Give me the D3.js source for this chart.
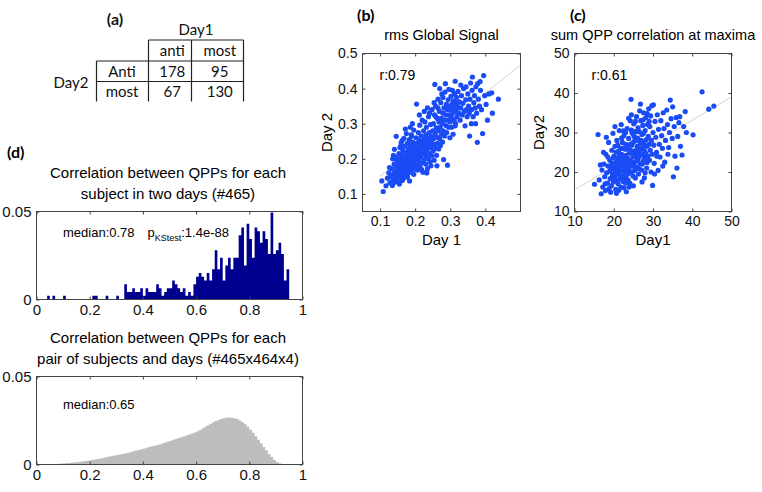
<!DOCTYPE html>
<html><head><meta charset="utf-8">
<script src="https://cdn.jsdelivr.net/npm/d3@7"></script>
<style>body{margin:0;background:#fff}svg{display:block}</style>
</head><body>
<script>
// ---------- DATA ----------
const tableCols = ["anti", "most"];
const tableRows = ["Anti", "most"];
const tableCounts = [[178, 95], [67, 130]];

const rmsDay1 = [0.105,0.109,0.117,0.121,0.125,0.128,0.131,0.133,0.135,0.137,0.139,0.140,0.142,0.143,0.145,0.146,0.147,0.148,0.149,0.150,0.136,0.138,0.127,0.141,0.144,
0.151,0.152,0.153,0.154,0.155,0.156,0.157,0.158,0.159,0.160,0.160,0.161,0.162,0.163,0.164,0.165,0.166,0.167,0.168,0.169,0.170,0.170,0.171,0.172,0.173,0.174,0.175,0.175,0.176,0.177,0.178,0.179,0.180,0.180,0.181,0.182,0.183,0.184,0.184,0.185,0.186,0.187,0.188,0.188,0.189,0.190,0.190,0.191,0.192,0.193,0.194,0.195,0.196,0.196,0.197,0.198,0.199,0.200,0.155,0.165,0.178,0.158,0.163,0.172,0.186,0.192,
0.201,0.202,0.203,0.204,0.204,0.205,0.206,0.207,0.208,0.209,0.210,0.210,0.211,0.212,0.213,0.214,0.215,0.216,0.217,0.218,0.219,0.220,0.220,0.221,0.222,0.223,0.224,0.225,0.226,0.227,0.228,0.229,0.230,0.230,0.231,0.232,0.233,0.234,0.235,0.236,0.237,0.238,0.239,0.240,0.241,0.242,0.243,0.244,0.245,0.246,0.247,0.248,0.249,0.250,0.212,0.226,0.235,0.241,0.256,0.218,0.233,0.245,
0.251,0.252,0.253,0.254,0.255,0.256,0.257,0.258,0.259,0.260,0.261,0.262,0.262,0.263,0.264,0.265,0.266,0.267,0.268,0.269,0.270,0.271,0.272,0.273,0.274,0.275,0.276,0.277,0.278,0.279,0.280,0.281,0.282,0.283,0.284,0.285,0.286,0.287,0.288,0.289,0.290,0.291,0.292,0.293,0.294,0.295,0.296,0.297,0.298,0.299,0.300,0.270,0.279,0.265,0.259,0.254,
0.301,0.302,0.303,0.304,0.305,0.306,0.307,0.308,0.309,0.310,0.311,0.312,0.313,0.314,0.315,0.316,0.317,0.318,0.319,0.320,0.322,0.324,0.326,0.328,0.330,0.332,0.334,0.336,0.338,0.340,0.342,0.344,0.346,0.348,0.350,0.314,0.330,0.345,
0.352,0.354,0.356,0.358,0.360,0.362,0.363,0.365,0.367,0.369,0.371,0.373,0.375,0.377,0.378,0.380,0.383,0.386,0.389,0.392,0.395,0.398,0.402,0.406,0.410,0.418,0.420,0.437,0.385,0.360,0.372,0.355];
const rmsDay2 = [0.137,0.107,0.123,0.145,0.160,0.132,0.150,0.172,0.124,0.141,0.158,0.185,0.133,0.166,0.149,0.264,0.178,0.195,0.139,0.160,0.200,0.210,0.175,0.227,0.205,
0.172,0.188,0.145,0.215,0.160,0.201,0.232,0.178,0.150,0.192,0.246,0.166,0.210,0.138,0.184,0.224,0.170,0.196,0.258,0.155,0.205,0.180,0.236,0.164,0.190,0.218,0.148,0.272,0.200,0.175,0.244,0.160,0.212,0.186,0.228,0.170,0.255,0.137,0.196,0.206,0.180,0.238,0.162,0.220,0.268,0.190,0.264,0.210,0.174,0.248,0.200,0.230,0.156,0.282,0.186,0.215,0.240,0.170,0.128,0.142,0.150,0.235,0.252,0.285,0.290,0.300,
0.198,0.225,0.260,0.356,0.182,0.210,0.245,0.168,0.232,0.275,0.200,0.218,0.190,0.252,0.296,0.176,0.228,0.206,0.265,0.240,0.188,0.214,0.310,0.250,0.162,0.230,0.280,0.198,0.256,0.220,0.305,0.238,0.185,0.268,0.210,0.290,0.246,0.226,0.172,0.260,0.200,0.320,0.236,0.275,0.215,0.250,0.192,0.298,0.232,0.264,0.208,0.340,0.244,0.280,0.325,0.335,0.345,0.330,0.412,0.170,0.160,0.180,
0.222,0.300,0.258,0.196,0.325,0.240,0.272,0.350,0.230,0.288,0.210,0.180,0.262,0.315,0.245,0.370,0.280,0.228,0.305,0.335,0.258,0.290,0.238,0.360,0.315,0.270,0.385,0.300,0.248,0.330,0.280,0.198,0.345,0.310,0.265,0.390,0.414,0.325,0.295,0.355,0.275,0.340,0.182,0.310,0.368,0.290,0.398,0.325,0.350,0.260,0.305,0.400,0.375,0.345,0.320,0.360,
0.340,0.378,0.318,0.290,0.355,0.395,0.330,0.270,0.365,0.345,0.310,0.385,0.335,0.421,0.300,0.360,0.340,0.375,0.320,0.350,0.392,0.330,0.362,0.310,0.345,0.380,0.325,0.358,0.400,0.335,0.294,0.368,0.340,0.320,0.385,0.294,0.410,0.405,
0.350,0.330,0.370,0.416,0.340,0.395,0.433,0.320,0.360,0.380,0.345,0.405,0.330,0.247,0.414,0.370,0.350,0.395,0.340,0.272,0.437,0.380,0.355,0.310,0.385,0.388,0.330,0.370,0.420,0.300,0.300,0.265];
const rmsFit = [[0.1, 0.15], [0.5, 0.467]];

const qppDay1 = [15.1,16.0,16.3,16.8,17.0,17.2,17.5,17.7,17.9,18.0,18.2,18.4,18.5,18.7,18.8,19.0,19.1,19.3,19.4,19.5,19.6,19.7,19.8,19.9,20.0,17.4,18.1,16.6,17.8,19.2,
20.1,20.2,20.3,20.4,20.5,20.6,20.7,20.8,20.9,21.0,21.1,21.2,21.3,21.4,21.5,21.6,21.7,21.8,21.9,22.0,22.1,22.2,22.3,22.4,22.5,22.6,22.7,22.8,22.9,23.0,20.5,21.0,21.7,22.4,22.8,20.3,21.9,22.6,21.3,23.0,
23.1,23.2,23.3,23.4,23.5,23.6,23.7,23.8,23.9,24.0,24.1,24.2,24.3,24.4,24.5,24.6,24.7,24.8,24.9,25.0,25.1,25.2,25.3,25.4,25.5,25.6,25.7,25.8,25.9,26.0,23.5,24.2,24.8,25.3,23.8,24.5,25.0,23.0,24.0,25.8,
26.1,26.2,26.3,26.4,26.5,26.6,26.7,26.8,26.9,27.0,27.1,27.2,27.3,27.4,27.5,27.6,27.7,27.8,27.9,28.0,28.1,28.2,28.3,28.4,28.5,28.6,28.7,28.8,28.9,29.0,26.4,27.2,28.0,26.8,28.5,27.7,26.2,
29.1,29.2,29.3,29.4,29.5,29.6,29.7,29.8,29.9,30.0,30.1,30.2,30.3,30.5,30.7,30.9,31.1,31.3,31.4,31.6,31.8,32.0,32.2,32.4,32.6,32.8,33.0,30.4,31.0,32.5,
33.2,33.5,33.7,34.0,34.2,34.4,34.6,34.9,35.2,35.4,35.6,35.9,36.1,36.3,36.6,37.0,37.4,37.8,38.2,38.5,40.2,42.5,44.2,45.5,35.0,33.8,36.8,
19.5,19.9,20.2,20.6,20.9,21.2,21.5,21.8,22.1,22.3,22.6,22.9,23.2,23.5,23.7,24.0,24.3,24.6,24.9,25.2,25.5,25.8,26.1,26.4,26.7,27.0,27.3,27.6,27.9,28.2,20.0,21.0,22.0,23.0,24.5,25.5,26.5,27.5,28.5,29.0,19.0,18.5,20.8,23.9,22.4];
const qppDay2 = [16.9,29.5,18.0,14.5,20.5,16.2,22.0,18.8,15.3,24.5,19.8,17.2,21.5,27.5,15.8,23.0,18.3,20.8,16.5,25.5,22.2,19.2,29.8,17.5,21.0,25.0,28.8,21.8,17.0,14.9,
24.0,18.5,26.5,20.0,15.6,22.5,14.6,28.0,19.3,23.5,17.0,25.2,21.2,30.5,18.2,22.8,26.0,16.2,20.3,24.5,19.0,27.5,21.8,17.6,23.2,29.2,20.6,25.8,18.6,22.0,21.3,20.8,23.8,22.4,19.8,31.5,32.0,16.0,15.4,27.0,
24.2,15.0,20.2,31.0,26.2,18.0,22.8,28.5,21.0,24.8,17.2,33.0,23.0,38.4,20.0,26.8,29.8,22.2,19.0,25.2,32.2,21.5,27.8,23.8,18.5,30.2,24.5,34.0,21.2,26.5,23.5,25.6,27.4,20.4,33.6,34.5,16.5,30.0,19.8,28.2,
23.0,31.2,19.5,28.0,25.0,35.5,22.0,27.2,33.0,24.5,20.5,29.5,26.0,31.8,22.8,35.0,27.5,18.5,25.2,30.5,23.5,33.8,28.2,21.0,26.5,32.0,24.0,29.0,36.0,27.0,20.8,17.5,19.8,37.2,34.8,24.0,26.0,
23.0,31.5,25.5,34.2,20.0,28.0,36.8,24.5,16.6,30.0,37.0,26.8,22.2,32.8,28.8,25.0,34.5,20.4,30.8,27.0,23.8,33.0,29.2,26.0,35.0,31.0,22.5,19.5,24.0,21.5,
28.0,35.7,32.0,26.2,30.0,38.2,33.5,28.5,18.8,31.5,24.0,33.8,21.0,29.0,32.5,26.5,24.3,31.5,35.3,30.0,29.4,40.3,35.9,36.7,36.5,24.5,34.0,
21.8,23.6,19.6,25.0,21.6,19.6,24.2,21.6,26.0,18.0,24.0,21.2,25.8,19.4,26.8,22.0,27.0,21.6,24.0,29.0,22.6,25.6,28.6,23.8,25.8,28.0,22.0,29.8,26.6,24.6,18.0,26.8,28.6,17.2,30.6,32.8,30.2,33.2,22.4,32.8,20.2,23.8,17.8,16.2,30.4];
const qppFit = [[10, 15.5], [50, 39]];

// subject-level histogram: counts per 0.01 bin (0..1), out of 465 subjects
const subjectCounts = [0,0,0,0,1,0,1,0,0,0,
 1,0,0,0,0,0,0,0,0,0,
 0,1,1,0,0,0,1,0,0,0,
 1,0,0,4,2,2,3,2,2,3,
 1,3,2,2,2,4,3,1,2,3,
 3,5,4,3,2,3,1,2,1,4,
 6,7,6,5,7,5,8,13,8,11,
 5,9,11,8,11,11,17,19,9,20,
 16,11,19,18,15,18,16,12,23,12,
 13,15,12,5,8,0,0,0,0,0];
const nSubjects = 465;
// pair-level histogram: fraction per 0.01 bin
const pairFractions = [0,0,0,0.0001,0.0001,0.0002,0.0002,0.0003,0.0004,0.0005,
 0.0006,0.0008,0.0009,0.0011,0.0012,0.0014,0.0016,0.0018,0.0020,0.0022,
 0.0024,0.0027,0.0030,0.0033,0.0036,0.0039,0.0042,0.0045,0.0048,0.0051,
 0.0054,0.0057,0.0060,0.0063,0.0067,0.0071,0.0075,0.0079,0.0083,0.0087,
 0.0091,0.0095,0.0099,0.0103,0.0107,0.0111,0.0115,0.0120,0.0125,0.0130,
 0.0135,0.0140,0.0145,0.0150,0.0155,0.0160,0.0165,0.0170,0.0176,0.0182,
 0.0188,0.0196,0.0205,0.0214,0.0223,0.0232,0.0240,0.0247,0.0253,0.0258,
 0.0263,0.0266,0.0267,0.0266,0.0263,0.0258,0.0250,0.0240,0.0228,0.0214,
 0.0198,0.0180,0.0161,0.0141,0.0121,0.0100,0.0080,0.0060,0.0042,0.0026,
 0.0014,0.0007,0.0003,0.0001,0.0001,0,0,0,0,0];
const histBinWidth = 0.01;

const scatterXTicksB = [0.1, 0.2, 0.3, 0.4];
const scatterYTicksB = [0.1, 0.2, 0.3, 0.4, 0.5];
const scatterTicksC = [10, 20, 30, 40, 50];
const histXTicks = [0, 0.2, 0.4, 0.6, 0.8, 1];
const histYTicks = [0, 0.05];

// ---------- DRAWING ----------
const MAT = "'Liberation Sans', Arial, sans-serif";
const CAL = "Lato, 'Open Sans', sans-serif";
const svg = d3.select("body").append("svg").attr("width", 762).attr("height", 492);
const fmt = d => String(+(+d).toFixed(2));

function frame(g, x, y, xt, yt, lblSize, xLabels, yLabels) {
  const [l, r] = x.range(), [b, t] = y.range();
  const ax = (gen, tx, ty, labels, ticks) => {
    const a = g.append("g").attr("transform", `translate(${tx},${ty})`)
      .call(gen.tickValues(ticks).tickSize(-3).tickPadding(labels ? 5 : 0)
        .tickFormat(labels ? fmt : ""));
    a.select(".domain").remove();
    a.selectAll("line").attr("stroke", "#444");
    a.selectAll("text").attr("font-family", MAT).attr("font-size", lblSize).attr("fill", "#111");
    return a;
  };
  ax(d3.axisBottom(x), 0, b, xLabels, xt);
  ax(d3.axisTop(x), 0, t, false, xt);
  ax(d3.axisLeft(y), l, 0, yLabels, yt);
  ax(d3.axisRight(y), r, 0, false, yt);
  g.append("rect").attr("x", l).attr("y", t).attr("width", r - l).attr("height", b - t)
    .attr("fill", "none").attr("stroke", "#444").attr("stroke-width", 1);
}

function scatter(opts) {
  const g = svg.append("g");
  const x = d3.scaleLinear().domain(opts.xd).range([opts.l, opts.r]);
  const y = d3.scaleLinear().domain(opts.yd).range([opts.b, opts.t]);
  g.append("line").attr("x1", x(opts.fit[0][0])).attr("y1", y(opts.fit[0][1]))
    .attr("x2", x(opts.fit[1][0])).attr("y2", y(opts.fit[1][1]))
    .attr("stroke", "#d4d4d4").attr("stroke-width", 1);
  g.selectAll("circle").data(d3.range(opts.xs.length)).join("circle")
    .attr("cx", i => x(opts.xs[i])).attr("cy", i => y(opts.ys[i])).attr("r", 2.6)
    .attr("fill", "#1a4bf5");
  frame(g, x, y, opts.xt, opts.yt, 14, true, true);
  const cx = (opts.l + opts.r) / 2;
  g.append("text").attr("x", cx).attr("y", 40).attr("text-anchor", "middle")
    .attr("font-family", MAT).attr("font-size", 14.5).text(opts.title);
  g.append("text").attr("x", cx).attr("y", 245).attr("text-anchor", "middle")
    .attr("font-family", MAT).attr("font-size", 15).text(opts.xlab);
  g.append("text").attr("transform", `translate(${opts.l - 31},${(opts.t + opts.b) / 2}) rotate(-90)`)
    .attr("text-anchor", "middle").attr("font-family", MAT).attr("font-size", 15).text(opts.ylab);
  g.append("text").attr("x", opts.l + 17).attr("y", 80).attr("font-family", MAT)
    .attr("font-size", 14).text(opts.r_text);
  g.append("text").attr("x", opts.panelX).attr("y", 21).attr("font-family", CAL)
    .attr("font-weight", "bold").attr("font-size", 16).text(opts.panel);
}

scatter({xs: rmsDay1, ys: rmsDay2, xd: [0.05, 0.5], yd: [0.05, 0.5], l: 362.5, r: 520.5, t: 53.5, b: 211.5,
  fit: rmsFit, xt: scatterXTicksB, yt: scatterYTicksB, title: "rms Global Signal", xlab: "Day 1", ylab: "Day 2",
  r_text: "r:0.79", panel: "(b)", panelX: 357});
scatter({xs: qppDay1, ys: qppDay2, xd: [10, 50], yd: [10, 50], l: 574.5, r: 731.5, t: 53.5, b: 211.5,
  fit: qppFit, xt: scatterTicksC, yt: scatterTicksC, title: "sum QPP correlation at maxima", xlab: "Day1", ylab: "Day2",
  r_text: "r:0.61", panel: "(c)", panelX: 570});

function hist(opts) {
  const g = svg.append("g");
  const x = d3.scaleLinear().domain([0, 1]).range([36.5, 302.5]);
  const y = d3.scaleLinear().domain([0, 0.05]).range([opts.b, opts.t]);
  // stepped outline of the histogram bins (one filled shape, no seams)
  const pts = opts.values.map((v, i) => [i * histBinWidth, v]);
  pts.push([opts.values.length * histBinWidth, 0]);
  const area = d3.area().curve(d3.curveStepAfter)
    .x(d => x(d[0])).y0(y(0)).y1(d => y(d[1]));
  g.append("path").datum(pts).attr("d", area).attr("fill", opts.color);
  frame(g, x, y, histXTicks, histYTicks, 15, true, true);
  opts.title.forEach((s, i) => g.append("text").attr("x", 168).attr("y", opts.titleY + i * 21)
    .attr("text-anchor", "middle").attr("font-family", MAT).attr("font-size", 15).text(s));
  return g;
}

const gTop = hist({values: subjectCounts.map(c => c / nSubjects), b: 299.5, t: 211.5, color: "#000090",
  title: ["Correlation between QPPs for each", "subject in two days (#465)"], titleY: 178});
gTop.append("text").attr("x", 63).attr("y", 237).attr("font-family", MAT).attr("font-size", 13).text("median:0.78");
const pt = gTop.append("text").attr("x", 147.5).attr("y", 237).attr("font-family", MAT).attr("font-size", 13);
pt.append("tspan").text("p");
pt.append("tspan").attr("font-size", 9).attr("dy", 4).text("KStest");
pt.append("tspan").attr("dy", -4).text(":1.4e-88");

const gBot = hist({values: pairFractions, b: 464.5, t: 376.5, color: "#bdbdbd",
  title: ["Correlation between QPPs for each", "pair of subjects and days (#465x464x4)"], titleY: 343});
gBot.append("text").attr("x", 63).attr("y", 409).attr("font-family", MAT).attr("font-size", 13).text("median:0.65");

svg.append("text").attr("x", 7).attr("y", 158).attr("font-family", CAL).attr("font-weight", "bold")
  .attr("font-size", 16).text("(d)");

// ---------- TABLE (a) ----------
const ta = svg.append("g");
const colX = d3.scaleBand().domain(tableCols).range([148.5, 243.5]);
const rowY = d3.scaleBand().domain(tableRows).range([61, 101.5]);
const T = (x, y, s, anchor, weight, size) => ta.append("text").attr("x", x).attr("y", y)
  .attr("text-anchor", anchor || "middle").attr("font-family", CAL).attr("font-size", size || 15)
  .attr("font-weight", weight || "normal").attr("fill", "#111").text(s);
T(115, 25, "(a)", "middle", "bold", 16);
T(196, 35, "Day1");
T(71, 87.5, "Day2");
tableCols.forEach(c => T(colX(c) + colX.bandwidth() / 2, 56, c));
tableRows.forEach((r, ri) => {
  T(122, rowY(r) + rowY.bandwidth() / 2 + 5.5, r);
  tableCols.forEach((c, ci) => T(colX(c) + colX.bandwidth() / 2, rowY(r) + rowY.bandwidth() / 2 + 5.5, tableCounts[ri][ci]));
});
const L = (x1, y1, x2, y2) => ta.append("line").attr("x1", x1).attr("y1", y1).attr("x2", x2).attr("y2", y2)
  .attr("stroke", "#222").attr("stroke-width", 1.2);
L(148.5, 40, 243.5, 40);
L(96.5, 61, 243.5, 61);
L(96.5, 81.5, 243.5, 81.5);
L(96.5, 61, 96.5, 101.5);
[148.5, 191.5, 243.5].forEach(x => L(x, 40, x, 101.5));
</script>
</body></html>
